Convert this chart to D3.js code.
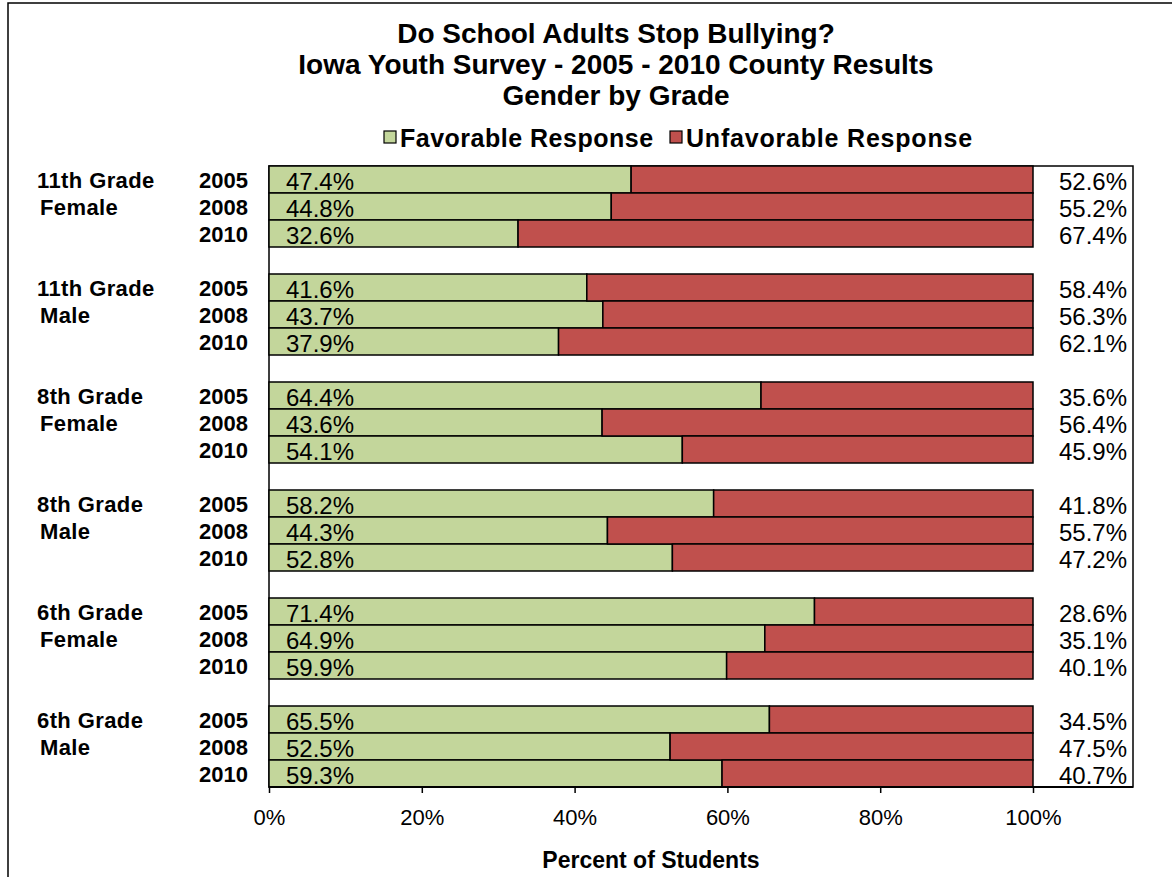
<!DOCTYPE html>
<html>
<head>
<meta charset="utf-8">
<script src="https://cdn.jsdelivr.net/npm/d3@7"></script>
<style>
  body { margin: 0; background: #fff; }
  svg { display: block; font-family: "Liberation Sans", Arial, sans-serif; }
</style>
</head>
<body>
<div id="chart"></div>
<script>
// Chart data
const groups = ["11th Grade|Female", "11th Grade|Male", "8th Grade|Female", "8th Grade|Male", "6th Grade|Female", "6th Grade|Male"];
const years = ["2005", "2008", "2010"];
const favorable = [47.4, 44.8, 32.6, 41.6, 43.7, 37.9, 64.4, 43.6, 54.1, 58.2, 44.3, 52.8, 71.4, 64.9, 59.9, 65.5, 52.5, 59.3];
const unfavorable = [52.6, 55.2, 67.4, 58.4, 56.3, 62.1, 35.6, 56.4, 45.9, 41.8, 55.7, 47.2, 28.6, 35.1, 40.1, 34.5, 47.5, 40.7];
const ticks = [0, 20, 40, 60, 80, 100];
const titleLines = ["Do School Adults Stop Bullying?", "Iowa Youth Survey - 2005 - 2010 County Results", "Gender by Grade"];
const seriesNames = ["Favorable Response", "Unfavorable Response"];

const width = 1172, height = 877;
const green = "#c3d69b", red = "#c0504d";

// Plot area
const plot = { left: 269, right: 1133, top: 166, bottom: 787 };

// rows: each group has 3 years followed by a blank row (not after the last)
const rows = [];
groups.forEach((g, gi) => {
  years.forEach((y, yi) => rows.push({ key: `${gi}-${y}`, group: g, gi, year: y, yi,
    fav: favorable[gi * 3 + yi], unf: unfavorable[gi * 3 + yi] }));
  if (gi < groups.length - 1) rows.push({ key: `gap${gi}`, gap: true });
});
const bars = rows.filter(d => !d.gap);

const x = d3.scaleLinear().domain([0, 100]).range([plot.left, 1033]);
const y = d3.scaleBand().domain(rows.map(d => d.key)).range([plot.top, plot.bottom]).padding(0);

const svg = d3.select("#chart").append("svg")
  .attr("width", width)
  .attr("height", height);

// outer frame
svg.append("rect")
  .attr("x", 8).attr("y", 3)
  .attr("width", width + 10).attr("height", height + 10)
  .attr("fill", "#fff").attr("stroke", "#000").attr("stroke-width", 1.5);

// title
svg.append("g")
  .attr("font-size", 28).attr("font-weight", "bold").attr("text-anchor", "middle")
  .selectAll("text")
  .data(titleLines)
  .join("text")
    .attr("x", 616)
    .attr("y", (d, i) => 43 + i * 31)
    .text(d => d);

// legend
const legend = svg.append("g").attr("font-size", 25).attr("font-weight", "bold");
const legendX = [384, 670];
seriesNames.forEach((name, i) => {
  legend.append("rect")
    .attr("x", legendX[i]).attr("y", 131).attr("width", 12).attr("height", 12)
    .attr("fill", i === 0 ? green : red).attr("stroke", "#000").attr("stroke-width", 1.2);
  legend.append("text")
    .attr("x", legendX[i] + 16).attr("y", 147)
    .attr("letter-spacing", i === 0 ? 0.5 : 0.8)
    .text(name);
});

// plot box
svg.append("rect")
  .attr("x", plot.left).attr("y", plot.top)
  .attr("width", plot.right - plot.left).attr("height", plot.bottom - plot.top)
  .attr("fill", "#fff").attr("stroke", "#000").attr("stroke-width", 1.5);

// bars
const barG = svg.append("g").attr("stroke", "#000").attr("stroke-width", 1.5);
barG.selectAll("rect.fav")
  .data(bars)
  .join("rect")
    .attr("class", "fav")
    .attr("x", x(0))
    .attr("y", d => y(d.key))
    .attr("width", d => x(d.fav) - x(0))
    .attr("height", y.bandwidth())
    .attr("fill", green);
barG.selectAll("rect.unf")
  .data(bars)
  .join("rect")
    .attr("class", "unf")
    .attr("x", d => x(d.fav))
    .attr("y", d => y(d.key))
    .attr("width", d => x(d.fav + d.unf) - x(d.fav))
    .attr("height", y.bandwidth())
    .attr("fill", red);

// value labels
const labelY = d => y(d.key) + y.bandwidth() / 2 + 10;
svg.append("g")
  .attr("font-size", 24)
  .selectAll("text")
  .data(bars)
  .join("text")
    .attr("x", x(0) + 17)
    .attr("y", labelY)
    .text(d => d.fav.toFixed(1) + "%");
svg.append("g")
  .attr("font-size", 24).attr("text-anchor", "end")
  .selectAll("text")
  .data(bars)
  .join("text")
    .attr("x", plot.right - 6)
    .attr("y", labelY)
    .text(d => d.unf.toFixed(1) + "%");

// year labels
svg.append("g")
  .attr("font-size", 22).attr("font-weight", "bold").attr("text-anchor", "end")
  .selectAll("text")
  .data(bars)
  .join("text")
    .attr("x", 248)
    .attr("y", d => y(d.key) + y.bandwidth() / 2 + 8)
    .text(d => d.year);

// group labels (two lines, on the 2005 and 2008 rows)
const groupG = svg.append("g").attr("font-size", 22).attr("font-weight", "bold");
bars.filter(d => d.yi < 2).forEach(d => {
  groupG.append("text")
    .attr("x", d.yi === 0 ? 37 : 40)
    .attr("y", y(d.key) + y.bandwidth() / 2 + 8)
    .attr("letter-spacing", 0.4)
    .text(d.group.split("|")[d.yi]);
});

// x axis
const axis = svg.append("g")
  .attr("transform", `translate(0,${plot.bottom})`)
  .call(d3.axisBottom(x).tickValues(ticks).tickFormat(d => d + "%").tickSize(6).tickPadding(16));
axis.select(".domain").remove();
axis.selectAll("line").attr("stroke", "#000").attr("stroke-width", 1.5);
axis.selectAll("text").attr("font-size", 22).attr("font-family", "Liberation Sans, Arial, sans-serif").attr("fill", "#000");

svg.append("line")
  .attr("x1", plot.left).attr("x2", plot.right)
  .attr("y1", plot.bottom).attr("y2", plot.bottom)
  .attr("stroke", "#000").attr("stroke-width", 2);

// axis title
svg.append("text")
  .attr("x", 651).attr("y", 868)
  .attr("text-anchor", "middle")
  .attr("font-size", 23).attr("font-weight", "bold")
  .text("Percent of Students");
</script>
</body>
</html>
